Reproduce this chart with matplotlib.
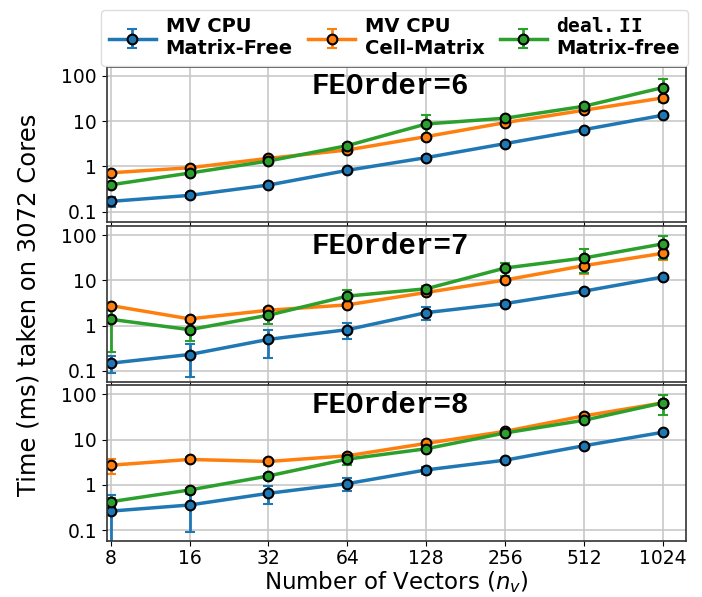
import matplotlib.pyplot as plt
from matplotlib.ticker import FixedLocator, FixedFormatter, NullLocator

plt.rcParams['mathtext.fontset'] = 'custom'
plt.rcParams['mathtext.tt'] = 'DejaVu Sans Mono:bold'
plt.rcParams['mathtext.it'] = 'DejaVu Sans:italic'

# number of vectors
n_vectors = [8, 16, 32, 64, 128, 256, 512, 1024]
fe_orders = [6, 7, 8]
labels = ['MV CPU\nMatrix-Free', 'MV CPU\nCell-Matrix', r'$\mathtt{deal.II}$' + '\nMatrix-free']

# times (ms), one list per FEOrder
mf_time = [
    [0.168, 0.228, 0.386, 0.815, 1.56, 3.18, 6.48, 13.5],
    [0.148, 0.23, 0.497, 0.815, 1.94, 3.08, 5.79, 11.9],
    [0.264, 0.36, 0.653, 1.07, 2.15, 3.53, 7.36, 14.6],
]
mf_err = [
    [0.04, 0.03, 0.03, 0.06, 0.1, 0.2, 0.3, 0.6],
    [0.06, 0.155, 0.3, 0.3, 0.6, 0.4, 0.5, 0.8],
    [0.33, 0.27, 0.28, 0.34, 0.4, 0.3, 0.5, 1.0],
]
cm_time = [
    [0.72, 0.93, 1.50, 2.30, 4.54, 9.26, 17.4, 32.6],
    [2.78, 1.41, 2.19, 2.88, 5.41, 10.2, 21.2, 39.8],
    [2.73, 3.66, 3.3, 4.41, 8.29, 15.3, 33.6, 65.3],
]
cm_err = [
    [0.03, 0.05, 0.1, 0.15, 0.3, 0.5, 1.0, 2.0],
    [0.3, 0.1, 0.3, 0.3, 0.5, 1.0, 7.6, 11.5],
    [1.0, 0.5, 0.5, 0.4, 0.8, 1.0, 3.0, 5.0],
]
dealii_time = [
    [0.39, 0.71, 1.31, 2.87, 8.65, 11.6, 21.3, 55.2],
    [1.38, 0.815, 1.70, 4.49, 6.53, 18.8, 31.3, 64.2],
    [0.426, 0.774, 1.58, 3.72, 6.31, 14.1, 26.9, 65.3],
]
dealii_err = [
    [0.05, 0.08, 0.1, 0.3, 4.9, 1.0, 2.0, 29.0],
    [1.12, 0.36, 0.6, 1.8, 0.8, 6.0, 17.0, 34.0],
    [0.1, 0.1, 0.2, 0.9, 0.6, 1.0, 2.0, 30.0],
]

colors = ['#1f77b4', '#ff7f0e', '#2ca02c']

fig = plt.figure(figsize=(7.02, 5.97), dpi=100)
gs = fig.add_gridspec(3, 1, left=0.152, right=0.977, top=0.888, bottom=0.094, hspace=0.025)

handles = []
for i, order in enumerate(fe_orders):
    ax = fig.add_subplot(gs[i])
    series = [(mf_time[i], mf_err[i]), (cm_time[i], cm_err[i]), (dealii_time[i], dealii_err[i])]
    for k, (t, e) in enumerate(series):
        h = ax.errorbar(n_vectors, t, yerr=e, color=colors[k], lw=2.5, capsize=3.5, capthick=2,
                        elinewidth=2, marker='o', ms=7, mec='black', mew=1.5, label=labels[k])
        if i == 0:
            handles.append(h)
    ax.set_xscale('log', base=2)
    ax.set_yscale('log')
    ax.set_xlim(2 ** 2.95, 2 ** 10.29)
    ax.set_ylim(0.058, 158)
    ax.xaxis.set_major_locator(FixedLocator(n_vectors))
    ax.xaxis.set_minor_locator(NullLocator())
    ax.yaxis.set_major_locator(FixedLocator([0.1, 1, 10, 100]))
    ax.yaxis.set_major_formatter(FixedFormatter(['0.1', '1', '10', '100']))
    ax.yaxis.set_minor_locator(NullLocator())
    ax.grid(True, color='#c8c8c8', lw=1.2)
    ax.tick_params(labelsize=13.5)
    ax.tick_params(axis='x', pad=2)
    for sp in ax.spines.values():
        sp.set_color('#333333')
        sp.set_linewidth(1.2)
    if i < 2:
        ax.set_xticklabels([])
    else:
        ax.set_xticklabels([str(n) for n in n_vectors])
        ax.set_xlabel(r'Number of Vectors ($n_v$)', fontsize=16.5, labelpad=1)
    ax.text(0.49, 0.965, 'FEOrder=%d' % order, transform=ax.transAxes, ha='center', va='top',
            fontsize=21, fontweight='bold', family='Liberation Mono')

fig.text(0.04, 0.49, 'Time (ms) taken on 3072 Cores', rotation=90, ha='center', va='center', fontsize=17.5)

fig.legend(handles=handles, labels=labels, loc='upper center', bbox_to_anchor=(0.562, 1.0), ncol=3,
           prop={'size': 14, 'weight': 'bold'}, handlelength=2.4, columnspacing=0.8,
           handletextpad=0.5, borderpad=0.4, framealpha=1, edgecolor='#dddddd')

plt.savefig('out.png', dpi=100)
